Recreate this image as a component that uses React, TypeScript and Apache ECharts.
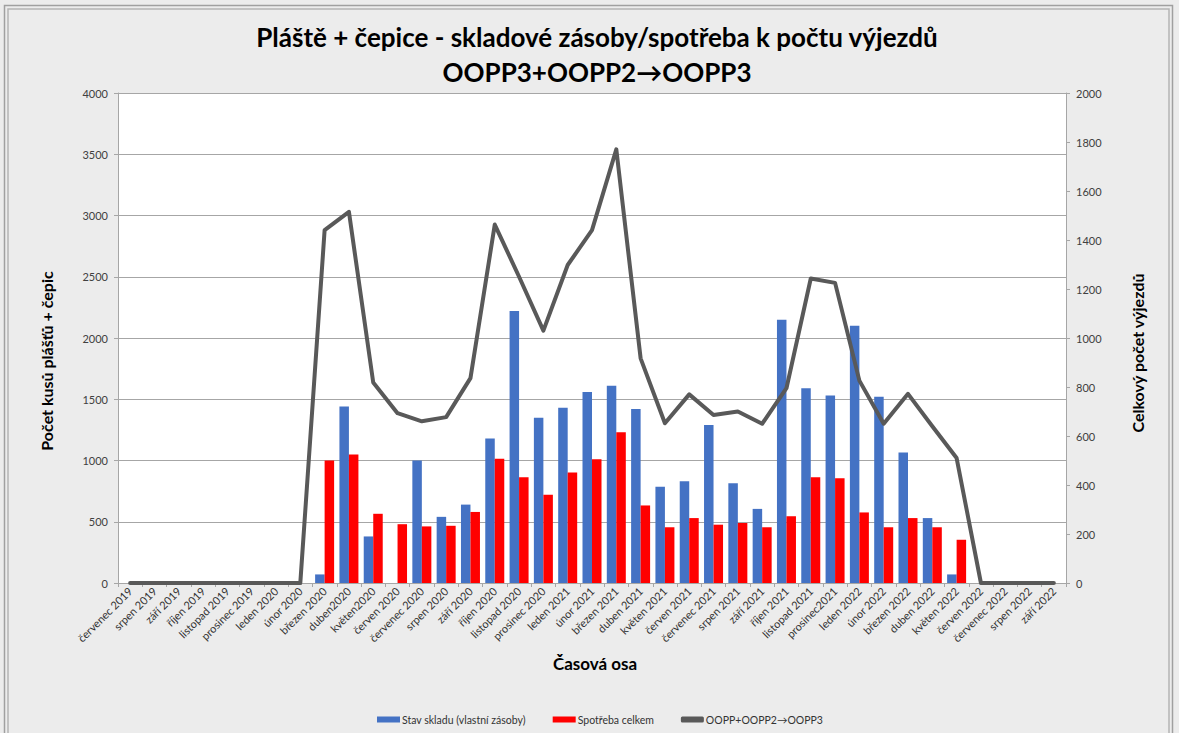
import React, { useEffect, useRef } from "react";
import * as echarts from "echarts";

const categories = [
  "červenec 2019", "srpen 2019", "září 2019", "říjen 2019", "listopad 2019", "prosinec 2019",
  "leden 2020", "únor 2020", "březen 2020", "duben2020", "květen2020", "červen 2020",
  "červenec 2020", "srpen 2020", "září 2020", "říjen 2020", "listopad 2020", "prosinec 2020",
  "leden 2021", "únor 2021", "březen 2021", "duben 2021", "květen 2021", "červen 2021",
  "červenec 2021", "srpen 2021", "září 2021", "říjen 2021", "listopad 2021", "prosinec2021",
  "leden 2022", "únor 2022", "březen 2022", "duben 2022", "květen 2022", "červen 2022",
  "červenec 2022", "srpen 2022", "září 2022",
];

const stockValues = [
  0, 0, 0, 0, 0, 0, 0, 0, 70, 1440, 380, 0, 1000, 540, 640, 1180, 2220, 1350, 1430, 1560,
  1610, 1420, 785, 830, 1290, 815, 605, 2150, 1590, 1530, 2100, 1520, 1065, 530, 70, 0, 0, 0, 0,
];

const consumptionValues = [
  0, 0, 0, 0, 0, 0, 0, 0, 1000, 1050, 565, 480, 462, 467, 580, 1015, 864, 720, 902, 1010,
  1231, 633, 455, 530, 476, 490, 455, 545, 864, 856, 576, 455, 530, 455, 353, 0, 0, 0, 0,
];

const tripValues = [
  0, 0, 0, 0, 0, 0, 0, 0, 1440, 1515, 818, 693, 660, 677, 836, 1463, 1250, 1030, 1298, 1440,
  1770, 917, 652, 770, 686, 700, 650, 795, 1243, 1225, 826, 650, 772, 640, 510, 0, 0, 0, 0,
];

const leftTicks = { min: 0, max: 4000, interval: 500 };
const rightTicks = { min: 0, max: 2000, interval: 200 };

const seriesNames = ["Stav skladu (vlastní zásoby)", "Spotřeba celkem", "OOPP+OOPP2→OOPP3"];
const titleLine1 = "Pláště + čepice - skladové zásoby/spotřeba k počtu výjezdů";
const titleLine2 = "OOPP3+OOPP2→OOPP3";
const xTitle = "Časová osa";
const yLeftTitle = "Počet kusů plášťů + čepic";
const yRightTitle = "Celkový počet výjezdů";

const FONT = "Lato, 'Open Sans', sans-serif";

export default function App() {
  const ref = useRef<HTMLDivElement>(null);

  useEffect(() => {
    document.body.style.margin = "0";
    if (!ref.current) return;
    const chart = echarts.init(ref.current, null, { renderer: "svg" });
    const axisGray = "#a6a6a6";
    const plain = (v: number) => String(v);
    chart.setOption({
      animation: false,
      backgroundColor: "#ececec",
      textStyle: { fontFamily: FONT },
      grid: {
        left: 118,
        right: 113,
        top: 93,
        bottom: 150,
        show: true,
        backgroundColor: "#ffffff",
        borderWidth: 0,
      },
      legend: {
        left: 377,
        top: 714,
        padding: 0,
        itemWidth: 23,
        itemHeight: 6,
        itemGap: 27,
        textStyle: { fontFamily: FONT, fontSize: 10.5, color: "#333", padding: [0, 0, 0, -3] },
        data: [
          { name: seriesNames[0], icon: "rect" },
          { name: seriesNames[1], icon: "rect" },
          { name: seriesNames[2], icon: "roundRect" },
        ],
      },
      xAxis: {
        type: "category",
        data: categories,
        axisLine: { lineStyle: { color: axisGray } },
        axisTick: { show: true, length: 4, lineStyle: { color: axisGray } },
        axisLabel: {
          rotate: 45,
          interval: 0,
          fontSize: 11,
          margin: 6,
          color: "#333",
          fontFamily: FONT,
        },
      },
      yAxis: [
        {
          type: "value",
          min: leftTicks.min,
          max: leftTicks.max,
          interval: leftTicks.interval,
          axisLine: { show: true, lineStyle: { color: axisGray } },
          axisTick: { show: true, length: 4, lineStyle: { color: axisGray } },
          axisLabel: { fontSize: 11, color: "#404040", margin: 10, fontFamily: FONT, formatter: plain },
          splitLine: { show: true, lineStyle: { color: axisGray, width: 1 } },
        },
        {
          type: "value",
          position: "right",
          min: rightTicks.min,
          max: rightTicks.max,
          interval: rightTicks.interval,
          axisLine: { show: true, lineStyle: { color: axisGray } },
          axisTick: { show: true, length: 4, lineStyle: { color: axisGray } },
          axisLabel: { fontSize: 11, color: "#404040", margin: 10, fontFamily: FONT, formatter: plain },
          splitLine: { show: false },
        },
      ],
      series: [
        {
          name: seriesNames[0],
          type: "bar",
          data: stockValues,
          barWidth: 9.5,
          barGap: "0%",
          itemStyle: { color: "#4472C4" },
        },
        {
          name: seriesNames[1],
          type: "bar",
          data: consumptionValues,
          barWidth: 9.5,
          barGap: "0%",
          itemStyle: { color: "#FF0000" },
        },
        {
          name: seriesNames[2],
          type: "line",
          yAxisIndex: 1,
          data: tripValues,
          showSymbol: false,
          symbol: "none",
          z: 5,
          lineStyle: { color: "#595959", width: 4, cap: "round", join: "round" },
          itemStyle: { color: "#595959" },
        },
      ],
      graphic: [
        {
          type: "rect",
          shape: { x: 4.5, y: 5.5, width: 1168, height: 760 },
          style: { fill: "none", stroke: "#a0a0a0", lineWidth: 1.5 },
          silent: true,
        },
        {
          type: "rect",
          shape: { x: 8, y: 9, width: 1161, height: 760 },
          style: { fill: "none", stroke: "#b4b4b4", lineWidth: 1.5 },
          silent: true,
        },
        {
          type: "text",
          x: 597,
          y: 37,
          style: {
            text: titleLine1,
            textAlign: "center",
            textVerticalAlign: "middle",
            fontFamily: FONT,
            fontWeight: "bold",
            fontSize: 26,
            fill: "#000",
          },
        },
        {
          type: "text",
          x: 597,
          y: 72,
          style: {
            text: titleLine2,
            textAlign: "center",
            textVerticalAlign: "middle",
            fontFamily: FONT,
            fontWeight: "bold",
            fontSize: 26,
            fill: "#000",
          },
        },
        {
          type: "text",
          x: 595,
          y: 663,
          style: {
            text: xTitle,
            textAlign: "center",
            textVerticalAlign: "middle",
            fontFamily: FONT,
            fontWeight: "bold",
            fontSize: 17,
            fill: "#000",
          },
        },
        {
          type: "text",
          x: 46,
          y: 361,
          rotation: Math.PI / 2,
          style: {
            text: yLeftTitle,
            textAlign: "center",
            textVerticalAlign: "middle",
            fontFamily: FONT,
            fontWeight: "bold",
            fontSize: 16,
            fill: "#000",
          },
        },
        {
          type: "text",
          x: 1137,
          y: 353,
          rotation: Math.PI / 2,
          style: {
            text: yRightTitle,
            textAlign: "center",
            textVerticalAlign: "middle",
            fontFamily: FONT,
            fontWeight: "bold",
            fontSize: 16,
            fill: "#000",
          },
        },
      ],
    });
    return () => chart.dispose();
  }, []);

  return <div ref={ref} style={{ width: 1179, height: 733 }} />;
}
